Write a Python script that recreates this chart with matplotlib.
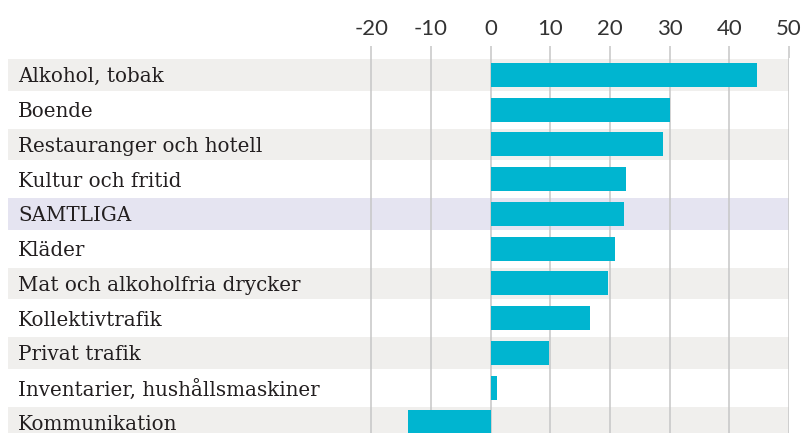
import matplotlib
matplotlib.use("Agg")
import matplotlib.pyplot as plt
from matplotlib.transforms import blended_transform_factory

categories = ["Alkohol, tobak", "Boende", "Restauranger och hotell", "Kultur och fritid",
              "SAMTLIGA", "Kläder", "Mat och alkoholfria drycker", "Kollektivtrafik",
              "Privat trafik", "Inventarier, hushållsmaskiner", "Kommunikation"]
values = [44.6, 30.0, 28.9, 22.6, 22.4, 20.8, 19.6, 16.7, 9.8, 1.0, -13.9]
ticks = [-20, -10, 0, 10, 20, 30, 40, 50]
highlight = "SAMTLIGA"

W, H = 805, 433
fig = plt.figure(figsize=(W / 100, H / 100), dpi=100)
ax_left, ax_right = 8, 789
ax_top, ax_bottom = 57.5, 433
ax = fig.add_axes([ax_left / W, 1 - ax_bottom / H, (ax_right - ax_left) / W, (ax_bottom - ax_top) / H])

bar_color = "#00b5d0"
gray_row = "#f0efed"
lav_row = "#e5e4f1"
grid_color = "#c6c6c6"
text_color = "#231f20"

n = len(categories)
for i, c in enumerate(categories):
    if c == highlight:
        ax.axhspan(i - 0.456, i + 0.456, color=lav_row, lw=0, zorder=0)
    elif i % 2 == 0:
        ax.axhspan(i - 0.456, i + 0.456, color=gray_row, lw=0, zorder=0)

ax.barh(range(n), values, height=0.69, color=bar_color, zorder=3)

ax.set_xlim(-80.9, 50)
ax.set_ylim(n - 1 + 0.306, -0.5)
ax.set_xticks(ticks)
ax.set_xticklabels([str(t) for t in ticks])
ax.set_yticks([])
ax.xaxis.tick_top()
ax.tick_params(axis="x", length=8.3, width=1.1, color=grid_color, pad=5,
               labelsize=16, labelcolor="#333333")
for lab in ax.get_xticklabels():
    lab.set_fontfamily(["Lato", "DejaVu Sans"])
    lab.set_fontweight("normal")
for x in ticks:
    ax.axvline(x, color=grid_color, lw=1.1, zorder=1)
for s in ax.spines.values():
    s.set_visible(False)

trans = blended_transform_factory(fig.transFigure, ax.transData)
for i, c in enumerate(categories):
    ax.text(18 / W, i, c, transform=trans, ha="left", va="center_baseline",
            fontsize=14.3, color=text_color, family=["DejaVu Serif"], zorder=4)

fig.savefig("out.png", dpi=100)
